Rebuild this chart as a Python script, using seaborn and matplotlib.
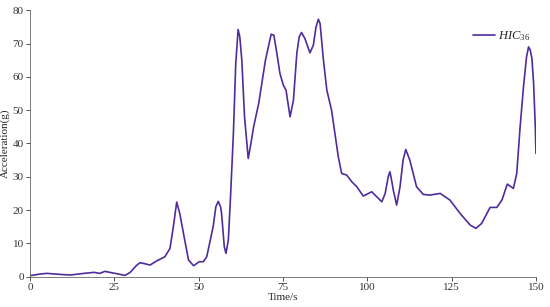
import matplotlib
matplotlib.use("Agg")
import matplotlib.pyplot as plt
import seaborn as sns
import pandas as pd

time_s = [0, 3, 5, 8.8, 12, 16, 19, 20.7, 22.2, 24.7, 28.2, 29.7, 31.5, 32.6, 34, 35.6, 37.5,
          40, 41.5, 42.5, 43.5, 44.4, 45.5, 47, 48.5, 50.2, 51.4, 52.4, 54.3, 55.1, 55.8,
          56.5, 56.8, 57.6, 58.1, 58.8, 59.5, 60.3, 61, 61.7, 62.2, 62.8, 63.6, 64.7, 65.5,
          66.3, 67.8, 69.8, 71.5, 72.3, 73.2, 74.1, 75.1, 75.9, 76.5, 77.1, 78.1, 79.1, 79.8,
          80.5, 81.5, 83, 84, 84.8, 85.5, 86, 87, 88, 89.4, 90.4, 91.4, 92.4, 93.9, 95.4,
          96.9, 98.8, 101.3, 102.8, 104.3, 105.3, 106.2, 106.7, 107.2, 107.7, 108.7, 109.7,
          110.6, 111.4, 112.6, 114.6, 116.6, 118.6, 121.6, 124.5, 127.5, 130.5, 132.2, 133.9,
          136.4, 138.4, 139.9, 141.5, 143.3, 144.3, 145.3, 146.3, 147.2, 147.8, 148.3, 148.8,
          149.3, 149.8, 150]
accel_g = [0.3, 0.8, 1.0, 0.7, 0.5, 1.0, 1.3, 1.0, 1.6, 1.1, 0.4, 1.3, 3.3, 4.2, 3.9, 3.5,
           4.7, 6, 8.5, 15, 22.4, 19, 13, 5, 3.3, 4.5, 4.5, 6, 15, 21, 22.6,
           21, 19, 9, 7, 11, 25, 43, 64, 74.2, 72, 65, 48, 35.5, 40,
           45, 52, 65, 72.8, 72.5, 67, 61, 57.5, 56, 52, 48, 53, 67, 72,
           73.3, 71.5, 67.2, 69.5, 75, 77.3, 76, 65, 56, 50, 43, 36, 31, 30.5, 28.5,
           27, 24.2, 25.5, 24, 22.5, 25, 30, 31.5, 29, 26, 21.5, 27,
           35, 38.2, 35, 27, 24.7, 24.5, 25, 23, 19, 15.5, 14.5, 16,
           20.8, 20.8, 23, 27.8, 26.5, 31, 45, 57, 66, 69, 68, 65.5,
           58, 45, 37]
series_label = "$HIC_{36}$"
x_ticks = [0, 25, 50, 75, 100, 125, 150]
y_ticks = [0, 10, 20, 30, 40, 50, 60, 70, 80]

sns.set_theme(style="ticks")
plt.rcParams['font.family'] = ['Liberation Serif', 'DejaVu Serif']
plt.rcParams['mathtext.fontset'] = 'custom'
plt.rcParams['mathtext.it'] = 'Liberation Serif:italic'
plt.rcParams['mathtext.rm'] = 'Liberation Serif'

df = pd.DataFrame({"t": time_s, "a": accel_g})

fig = plt.figure(figsize=(5.5, 3.07), dpi=100)
ax = fig.add_axes([0.0545, 0.0987, 0.92, 0.868])
sns.lineplot(data=df, x="t", y="a", ax=ax, color="#4f2c9c", linewidth=1.2, label=series_label)

ax.set_xlim(0, 150)
ax.set_ylim(0, 80)
ax.set_xticks(x_ticks)
ax.set_yticks(y_ticks)
ax.tick_params(labelsize=8, length=3, width=0.6, colors="#333333", direction="out", pad=1.5)
for s in ["top", "right"]:
    ax.spines[s].set_visible(False)
for s in ["left", "bottom"]:
    ax.spines[s].set_linewidth(0.6)
    ax.spines[s].set_color("#666666")
ax.set_xlabel("Time/s", fontsize=8, labelpad=1)
ax.set_ylabel("Acceleration(g)", fontsize=8)
ax.yaxis.set_label_coords(-0.04, 0.5)
leg = ax.legend(loc="upper right", frameon=False, fontsize=9, handlelength=1.8,
                handletextpad=0.2, bbox_to_anchor=(1.01, 0.97))
fig.savefig("out.png", dpi=100)
